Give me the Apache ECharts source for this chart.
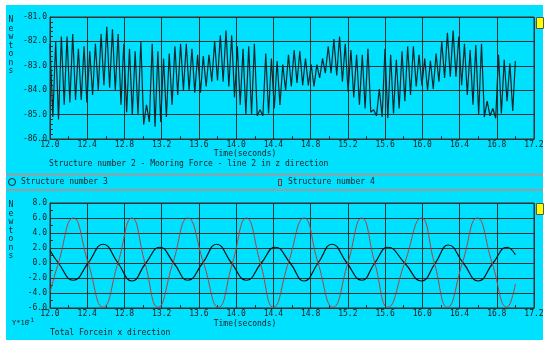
<!DOCTYPE html>
<html>
<head>
<meta charset="utf-8">
<script src="https://cdn.jsdelivr.net/npm/echarts@6/dist/echarts.min.js"></script>
<style>
html, body { margin: 0; padding: 0; background: #fff; }
#main { width: 550px; height: 346px; }
</style>
</head>
<body>
<div id="main"></div>
<script>
// top chart: mooring force, one peak and one trough per wave cycle
var topStart = 12.0
var topPeriod = 0.061
var topPeaks = [
	-82.1, -82.0, -81.8, -81.8, -81.7, -82.3, -82.2, -82.4, -82.1, -81.7,
	-81.4, -81.5, -81.7, -82.1, -82.3, -82.4, -82.0, -84.6, -82.1, -82.4,
	-82.7, -82.5, -82.2, -82.1, -82.1, -82.3, -82.55, -82.6, -82.55, -82.0,
	-81.75, -81.55, -81.75, -82.2, -82.3, -82.2, -82.1, -84.8, -82.5, -82.7,
	-82.8, -82.95, -82.55, -82.35, -82.4, -82.7, -82.95, -82.95, -82.7, -82.2,
	-81.9, -81.8, -82.1, -82.35, -82.55, -82.55, -82.3, -84.8, -83.95, -82.3,
	-82.55, -82.75, -82.4, -82.2, -82.2, -82.55, -82.7, -82.8, -82.5, -82.0,
	-81.65, -81.55, -81.8, -82.1, -82.35, -82.15, -82.1, -84.45, -84.75, -82.55,
	-82.75, -82.9
]
var topTroughs = [
	-85.1, -85.2, -84.6, -84.5, -84.4, -84.4, -84.5, -84.2, -84.0, -83.8,
	-83.9, -84.0, -84.6, -84.9, -85.0, -85.0, -85.4, -85.3, -85.5, -85.3,
	-85.1, -84.6, -84.2, -84.0, -84.0, -84.1, -84.1, -83.85, -83.65, -83.6,
	-83.65, -83.85, -84.3, -84.6, -85.0, -85.0, -85.05, -85.05, -84.95, -84.75,
	-84.6, -84.0, -83.85, -83.7, -83.8, -83.8, -83.85, -83.5, -83.3, -83.3,
	-83.4, -83.65, -84.05, -84.3, -84.6, -84.75, -84.9, -85.05, -85.1, -85.15,
	-84.95, -84.75, -84.45, -84.2, -83.85, -83.8, -84.0, -83.95, -83.65, -83.5,
	-83.45, -83.45, -83.8, -84.2, -84.6, -85.0, -85.1, -85.05, -85.15, -84.95,
	-84.45, -84.85
]
var topEnd = -82.8

// bottom chart: total force, structure 3 (black) and 4 (red), x 10^-1
var blackTime = [12.0, 12.09, 12.25, 12.41, 12.57, 12.73, 12.88, 13.03, 13.18, 13.33, 13.48, 13.64, 13.79, 13.95, 14.11, 14.27, 14.42, 14.58, 14.73, 14.88, 15.03, 15.19, 15.35, 15.49, 15.63, 15.81, 15.99, 16.14, 16.28, 16.44, 16.60, 16.76, 16.91, 17.0]
var blackValue = [1.7, 0, -2.3, 0, 2.5, 0, -2.4, 0, 2.1, 0, -2.3, 0, 2.5, 0, -2.3, 0, 2.1, 0, -2.4, 0, 2.5, 0, -2.3, 0, 2.1, 0, -2.4, 0, 2.4, 0, -2.4, 0, 2.1, 1.1]
var redTime = [12.0, 12.09, 12.25, 12.41, 12.57, 12.73, 12.88, 13.02, 13.16, 13.32, 13.48, 13.65, 13.81, 13.96, 14.11, 14.26, 14.40, 14.56, 14.73, 14.88, 15.04, 15.20, 15.35, 15.49, 15.63, 15.81, 15.99, 16.13, 16.27, 16.43, 16.59, 16.75, 16.91, 17.0]
var redValue = [-3.9, 0, 6.0, 0, -5.9, 0, 6.0, 0, -5.9, 0, 6.0, 0, -5.9, 0, 6.0, 0, -5.9, 0, 6.0, 0, -5.9, 0, 6.0, 0, -5.9, 0, 6.0, 0, -5.9, 0, 6.0, 0, -5.9, -2.8]

// axis ticks
var xMin = 12.0, xMax = 17.2, xStep = 0.4
var topYMin = -86, topYMax = -81, topYStep = 1
var lowYMin = -6, lowYMax = 8, lowYStep = 2

var font = '"DejaVu Sans Mono", monospace'
var ink = '#222'
var gridColor = '#303030'

function pairs(xs, ys) {
	var res = []
	for (var i = 0; i < xs.length; i++) res.push([xs[i], ys[i]])
	return res
}

var topData = []
for (var i = 0; i < topPeaks.length; i++) {
	topData.push([topStart + i * topPeriod, topPeaks[i]])
	topData.push([topStart + (i + 0.5) * topPeriod, topTroughs[i]])
}
topData.push([17.0, topEnd])

function makeX(idx) {
	return {
		type: 'value', gridIndex: idx, min: xMin, max: xMax, interval: xStep,
		axisLine: { show: true, onZero: false, lineStyle: { color: gridColor, width: 1 } },
		axisTick: { show: true, inside: true, length: 3, lineStyle: { color: gridColor } },
		minorTick: { show: true, splitNumber: 2, length: 3, lineStyle: { color: gridColor } },
		splitLine: { show: true, lineStyle: { color: gridColor, width: 1 } },
		axisLabel: {
			margin: 2, fontSize: 8, fontFamily: font, color: ink,
			formatter: function (v) { return v.toFixed(1) }
		}
	}
}

function makeY(idx, min, max, step, minorSplit) {
	return {
		type: 'value', gridIndex: idx, min: min, max: max, interval: step,
		axisLine: { show: true, onZero: false, lineStyle: { color: gridColor, width: 1 } },
		axisTick: { show: true, inside: true, length: 3, lineStyle: { color: gridColor } },
		minorTick: { show: true, splitNumber: minorSplit, length: 3, lineStyle: { color: gridColor } },
		splitLine: { show: true, lineStyle: { color: gridColor, width: 1 } },
		axisLabel: {
			margin: 3, fontSize: 8, fontFamily: font, color: ink,
			formatter: function (v) { return v.toFixed(1) }
		}
	}
}

function txt(s, x, y, align, size) {
	return {
		type: 'text', x: x, y: y, z: 10,
		style: {
			text: s, font: (size || 8) + 'px ' + font, fill: ink,
			textAlign: align || 'left', textVerticalAlign: 'middle'
		}
	}
}

function vtxt(s, x, y) {
	return {
		type: 'text', x: x, y: y, z: 10,
		style: {
			text: s.split('').join('\n'), font: '8px ' + font, fill: ink,
			textAlign: 'center', textVerticalAlign: 'top', lineHeight: 8.5
		}
	}
}

var myChart = echarts.init(document.getElementById('main'))
var option = {
	backgroundColor: '#fff',
	animation: false,
	grid: [
		{ left: 50, top: 17, width: 484, height: 122, show: true, borderColor: gridColor, borderWidth: 1, backgroundColor: 'transparent' },
		{ left: 50, top: 203, width: 484, height: 105, show: true, borderColor: gridColor, borderWidth: 1, backgroundColor: 'transparent' }
	],
	xAxis: [makeX(0), makeX(1)],
	yAxis: [
		makeY(0, topYMin, topYMax, topYStep, 5),
		makeY(1, lowYMin, lowYMax, lowYStep, 2)
	],
	series: [
		{
			name: 'Mooring Force', type: 'line', xAxisIndex: 0, yAxisIndex: 0,
			data: topData, symbol: 'none', lineStyle: { color: '#1a262b', width: 1.2 }
		},
		{
			name: 'Structure number 3', type: 'line', xAxisIndex: 1, yAxisIndex: 1,
			data: pairs(blackTime, blackValue), symbol: 'none', smooth: 0.5,
			lineStyle: { color: '#111', width: 1.2 }
		},
		{
			name: 'Structure number 4', type: 'line', xAxisIndex: 1, yAxisIndex: 1,
			data: pairs(redTime, redValue), symbol: 'none', smooth: 0.5,
			lineStyle: { color: '#b04040', width: 1 }
		}
	],
	graphic: {
		elements: [
			{ type: 'rect', z: -10, shape: { x: 6, y: 5, width: 537, height: 335 }, style: { fill: '#00e0ff' } },
			{ type: 'line', z: 5, shape: { x1: 6, y1: 174.5, x2: 543, y2: 174.5 }, style: { stroke: '#9c9c9c', lineWidth: 2 } },
			{ type: 'line', z: 5, shape: { x1: 6, y1: 190, x2: 543, y2: 190 }, style: { stroke: '#9c9c9c', lineWidth: 2 } },
			{ type: 'rect', z: 5, shape: { x: 536.5, y: 17.5, width: 7, height: 11 }, style: { fill: '#ffff00', stroke: '#555', lineWidth: 1 } },
			{ type: 'rect', z: 5, shape: { x: 536.5, y: 203.5, width: 7, height: 11 }, style: { fill: '#ffff00', stroke: '#555', lineWidth: 1 } },
			vtxt('Newtons', 11, 16),
			vtxt('Newtons', 11, 201),
			txt('Time(seconds)', 245, 154, 'center'),
			txt('Structure number 2 - Mooring Force - line 2 in z direction', 49, 164),
			{ type: 'circle', z: 5, shape: { cx: 12, cy: 182, r: 3.5 }, style: { fill: 'none', stroke: ink, lineWidth: 1 } },
			txt('Structure number 3', 21, 182),
			{ type: 'rect', z: 5, shape: { x: 278.5, y: 179.5, width: 3, height: 6 }, style: { fill: 'none', stroke: '#8a3030', lineWidth: 1 } },
			txt('Structure number 4', 288, 182),
			txt('Time(seconds)', 245, 324, 'center'),
			txt('Y*10', 12, 323, 'left', 7),
			txt('-1', 27, 320, 'left', 6),
			txt('Total Forcein x direction', 50, 333)
		]
	}
}
myChart.setOption(option)
</script>
</body>
</html>
